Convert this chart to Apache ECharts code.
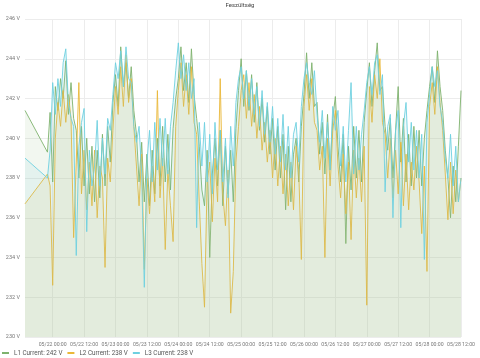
<!DOCTYPE html>
<html><head><meta charset="utf-8">
<script src="https://cdn.jsdelivr.net/npm/echarts@6/dist/echarts.min.js"></script>
<style>html,body{margin:0;padding:0;background:#fff}#c{width:480px;height:358px}</style>
</head><body><div id="c"></div>
<script>
// time domain, in hours relative to 05/22 00:00
const HOUR = 3600 * 1000;
const refTime = Date.UTC(2021, 4, 22, 0, 0);
const firstPointHour = -(10 + 35 / 60);   // isolated first sample, 05/21 13:25
const seriesStartHour = -2;               // hourly samples from 05/21 22:00
const axisEndHour = 156;                  // 05/28 12:00
const tickHours = [0, 12, 24, 36, 48, 60, 72, 84, 96, 108, 120, 132, 144, 156];

const names = ['L1', 'L2', 'L3'];
const colors = ['#7EB26D', '#EAB839', '#6ED0E0'];
const firstValues = [241.4, 236.7, 239.0];

const l1 = [239.3,241.3,237.8,
242.6,241.4,243.0,242.0,243.9,241.2,242.8,241.0,
240.4,238.0,240.6,237.6,240.0,237.2,239.6,236.8,239.4,237.0,240.2,237.6,240.6,238.8,
241.8,243.2,241.6,244.6,242.6,243.8,242.0,243.6,241.4,
240.2,237.8,239.8,236.8,239.2,236.6,239.4,237.2,240.0,237.6,240.6,237.8,240.2,237.4,240.5,242.0,
243.0,244.6,242.4,243.8,241.8,244.5,242.2,241.0,
239.6,237.4,236.6,239.4,234.0,238.2,240.0,237.6,240.4,236.6,239.6,237.2,239.4,236.8,240.5,242.4,
244.0,241.6,243.4,241.4,243.2,240.8,242.8,240.4,242.0,239.8,241.6,
239.2,241.0,238.4,240.6,238.0,240.2,236.4,239.6,236.8,239.2,240.0,237.8,240.6,
242.2,244.3,242.0,243.8,241.6,241.8,239.2,
240.8,238.2,241.2,238.4,241.0,242.1,239.6,237.8,240.2,234.7,239.6,237.4,240.6,238.0,240.4,237.8,240.8,
242.4,243.8,241.6,243.4,244.8,242.4,242.6,240.6,
239.4,241.0,238.0,240.4,242.6,238.8,241.0,237.8,240.2,237.6,240.6,238.0,240.4,237.6,240.0,241.4,
242.6,243.6,241.8,244.4,242.6,241.4,
239.4,238.0,236.0,238.6,236.8,239.6,242.4];

const l2 = [238.2,237.6,232.6,
240.0,241.8,240.6,242.4,240.8,242.2,241.0,235.0,
238.8,242.8,237.2,239.4,236.4,238.8,236.6,239.4,236.0,238.6,238.0,233.5,239.0,237.8,
240.4,242.6,241.2,243.6,241.6,244.2,241.8,243.0,240.6,
238.6,236.6,239.2,233.4,238.0,236.2,238.6,236.8,242.4,237.0,239.0,234.4,238.4,236.6,234.8,240.6,
242.4,243.8,241.6,243.2,241.2,243.6,240.8,240.2,
236.8,233.7,231.5,237.8,238.8,235.8,239.0,236.8,243.0,237.2,235.6,238.4,231.2,233.3,238.8,240.6,
242.4,243.2,241.0,242.8,240.6,242.2,240.0,241.6,239.4,240.8,238.8,
240.4,238.0,240.0,237.6,239.6,237.2,239.2,236.6,238.8,236.4,239.6,238.4,233.9,
241.6,243.2,241.4,243.0,240.8,240.4,238.4,
239.6,234.0,240.0,237.6,240.4,241.4,238.6,237.0,239.2,236.2,238.8,234.9,239.4,237.0,239.0,236.8,239.6,
231.6,242.6,240.8,243.2,242.0,244.0,240.8,240.2,
238.0,240.0,237.0,239.4,237.2,239.8,236.6,239.2,236.4,238.8,237.4,239.6,237.8,235.2,238.6,233.3,
241.6,242.8,241.2,243.6,241.8,240.4,
238.2,235.9,238.8,236.2,238.4,236.8,238.0];

const l3 = [238.0,239.4,242.8,
241.2,243.0,241.6,243.8,244.5,241.8,241.0,240.6,
234.1,239.6,240.8,241.5,235.3,239.4,237.6,238.6,240.9,237.6,240.0,238.2,241.0,240.4,
242.2,243.8,243.0,244.4,242.6,244.6,243.0,242.8,240.6,
239.8,240.6,238.2,232.5,238.8,240.4,237.8,240.8,238.4,241.0,238.6,241.0,238.2,240.6,241.8,243.4,
244.8,243.0,244.2,242.4,243.8,242.0,243.0,235.5,
240.8,238.6,240.8,237.8,240.2,237.2,240.8,238.4,240.4,237.8,240.0,237.0,240.6,238.6,241.8,243.0,
243.6,242.0,243.4,241.6,243.0,241.2,242.6,240.6,242.4,240.2,241.8,
239.8,241.6,239.2,241.0,238.8,241.2,238.4,240.6,238.0,240.2,240.8,238.8,241.6,
243.0,243.8,242.8,242.2,243.4,241.2,239.8,
241.4,239.0,240.8,238.4,241.6,240.4,241.4,238.6,240.6,237.8,240.4,242.8,238.2,240.6,238.4,240.2,241.4,
242.8,243.6,242.2,243.8,244.2,242.2,243.2,237.3,
240.6,241.2,236.0,240.4,241.4,235.5,240.6,241.8,238.8,240.8,238.4,240.4,238.0,240.2,233.9,240.8,
242.2,243.6,242.6,243.4,241.6,240.8,
239.0,238.0,240.2,237.6,239.6,236.8,238.0];

const valueLists = [l1, l2, l3];

function toPairs(first, list) {
  const out = [[firstPointHour, first]];
  list.forEach((v, i) => out.push([seriesStartHour + i, v]));
  return out;
}
function pad(n) { return (n < 10 ? '0' : '') + n; }
function fmt(h) {
  const d = new Date(refTime + h * HOUR);
  return pad(d.getUTCMonth() + 1) + '/' + pad(d.getUTCDate()) + ' ' + pad(d.getUTCHours()) + ':' + pad(d.getUTCMinutes());
}

const chart = echarts.init(document.getElementById('c'), null, { renderer: 'canvas' });
const series = names.map((n, k) => ({
  name: n,
  type: 'line',
  data: toPairs(firstValues[k], valueLists[k]),
  showSymbol: false,
  symbol: 'none',
  lineStyle: { width: 0.9, color: colors[k] },
  itemStyle: { color: colors[k] },
  areaStyle: { color: colors[k], opacity: 0.1, origin: 'start' },
  animation: false,
  z: 2 + k
}));

chart.setOption({
  animation: false,
  backgroundColor: '#fff',
  title: {
    text: 'Feszültség', left: 'center', top: 2, padding: 0,
    textStyle: { fontSize: 6, fontWeight: 'normal', color: '#444', fontFamily: 'Roboto' }
  },
  legend: {
    left: 2, top: 350, padding: 0, itemWidth: 7, itemHeight: 2, itemGap: 5, icon: 'rect',
    textStyle: { fontSize: 6.3, color: '#555', fontFamily: 'Roboto' },
    formatter: function (name) {
      const k = names.indexOf(name);
      const list = valueLists[k];
      return name + ' Current: ' + Math.round(list[list.length - 1]) + ' V';
    }
  },
  grid: { left: 25, right: 19, top: 19, bottom: 21, containLabel: false },
  xAxis: {
    type: 'value', min: firstPointHour, max: axisEndHour,
    axisLine: { show: false },
    axisTick: { show: false, customValues: tickHours },
    axisLabel: {
      customValues: tickHours, formatter: function (v) { return fmt(v); },
      fontSize: 5.2, color: '#777', margin: 5, hideOverlap: false, fontFamily: 'Roboto'
    },
    splitLine: { show: true, lineStyle: { color: '#ececec', width: 1 } }
  },
  yAxis: {
    type: 'value', min: 230, max: 246, interval: 2,
    axisLine: { show: false }, axisTick: { show: false },
    axisLabel: { formatter: '{value} V', fontSize: 5.5, color: '#777', margin: 5, fontFamily: 'Roboto' },
    splitLine: { show: true, lineStyle: { color: '#ececec', width: 1 } }
  },
  series: series
});
</script>
</body></html>
